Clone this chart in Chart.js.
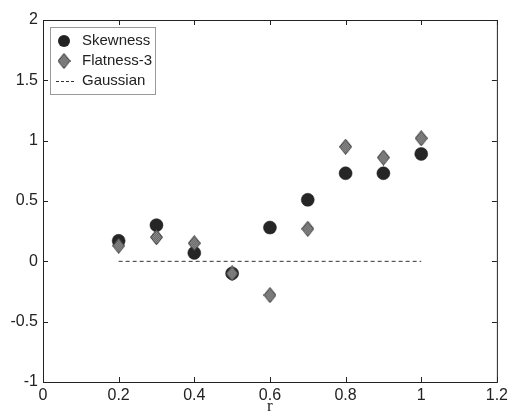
<!DOCTYPE html>
<html>
<head>
<meta charset="utf-8">
<script src="https://cdn.jsdelivr.net/npm/chart.js@4"></script>
<style>
  html, body { margin: 0; padding: 0; background: #fff; }
  #c { display: block; }
</style>
</head>
<body>
<canvas id="c" width="512" height="412"></canvas>
<script>
// ---------- data ----------
const rValues   = [0.2, 0.3, 0.4, 0.5, 0.6, 0.7, 0.8, 0.9, 1.0];
const skewness  = [0.17, 0.30, 0.07, -0.10, 0.28, 0.51, 0.73, 0.73, 0.89];
const flatness3 = [0.13, 0.20, 0.15, -0.10, -0.28, 0.27, 0.95, 0.86, 1.02];
const gaussX    = [0.2, 1.0];
const gaussY    = [0, 0];
const xTicks    = [0, 0.2, 0.4, 0.6, 0.8, 1, 1.2];
const yTicks    = [-1, -0.5, 0, 0.5, 1, 1.5, 2];

const FONT = "'Liberation Sans', Arial, sans-serif";

// hatched grey diamond marker (drawn once, used as pointStyle)
function makeDiamond(w, h) {
  const cv = document.createElement("canvas");
  cv.width = w; cv.height = h;
  const g = cv.getContext("2d");
  const pc = document.createElement("canvas");
  pc.width = 2; pc.height = 2;
  const pg = pc.getContext("2d");
  pg.fillStyle = "#9a9a9a"; pg.fillRect(0, 0, 2, 2);
  pg.fillStyle = "#5a5a5a"; pg.fillRect(0, 0, 1, 1); pg.fillRect(1, 1, 1, 1);
  g.beginPath();
  g.moveTo(w / 2, 0.5); g.lineTo(w - 0.5, h / 2); g.lineTo(w / 2, h - 0.5); g.lineTo(0.5, h / 2);
  g.closePath();
  g.fillStyle = g.createPattern(pc, "repeat");
  g.fill();
  g.strokeStyle = "#333"; g.lineWidth = 1; g.stroke();
  return cv;
}
const diamond = makeDiamond(13, 16);

const toXY = (xs, ys) => xs.map((x, i) => ({ x: x, y: ys[i] }));

// frame, inner ticks and legend box (matlab look)
const framePlugin = {
  id: "frame",
  afterDatasetsDraw(chart) {
    const { ctx, chartArea: a, scales } = chart;
    ctx.save();
    ctx.strokeStyle = "#222";
    ctx.lineWidth = 1;
    ctx.strokeRect(a.left + 0.5, a.top + 0.5, a.right - a.left, a.bottom - a.top);
    ctx.beginPath();
    xTicks.forEach(v => {
      const px = Math.round(scales.x.getPixelForValue(v)) + 0.5;
      ctx.moveTo(px, a.bottom); ctx.lineTo(px, a.bottom - 5);
      ctx.moveTo(px, a.top); ctx.lineTo(px, a.top + 5);
    });
    yTicks.forEach(v => {
      const py = Math.round(scales.y.getPixelForValue(v)) + 0.5;
      ctx.moveTo(a.left, py); ctx.lineTo(a.left + 5, py);
      ctx.moveTo(a.right, py); ctx.lineTo(a.right - 5, py);
    });
    ctx.stroke();

    // legend
    const bx = a.left + 7, by = a.top + 7, bw = 105, bh = 67;
    ctx.fillStyle = "#fff";
    ctx.fillRect(bx, by, bw, bh);
    ctx.strokeStyle = "#999";
    ctx.strokeRect(bx + 0.5, by + 0.5, bw, bh);
    const mx = bx + 14, tx = bx + 32;
    const rows = [by + 14, by + 34, by + 54];
    ctx.fillStyle = "#222";
    ctx.beginPath(); ctx.arc(mx, rows[0], 6, 0, Math.PI * 2); ctx.fill();
    ctx.drawImage(diamond, mx - 6.5, rows[1] - 8);
    ctx.strokeStyle = "#333";
    ctx.setLineDash([3, 2]);
    ctx.beginPath(); ctx.moveTo(mx - 8, rows[2] + 0.5); ctx.lineTo(mx + 10, rows[2] + 0.5); ctx.stroke();
    ctx.setLineDash([]);
    ctx.fillStyle = "#222";
    ctx.font = "15px " + FONT;
    ctx.textBaseline = "middle";
    ctx.fillText("Skewness", tx, rows[0]);
    ctx.fillText("Flatness-3", tx, rows[1]);
    ctx.fillText("Gaussian", tx, rows[2]);
    ctx.restore();
  }
};

const fmt = v => String(Math.round(v * 10) / 10);

new Chart(document.getElementById("c"), {
  type: "scatter",
  data: {
    datasets: [
      {
        label: "Gaussian",
        data: toXY(gaussX, gaussY),
        showLine: true,
        borderColor: "#333",
        borderWidth: 1,
        borderDash: [4, 3],
        pointRadius: 0
      },
      {
        label: "Flatness-3",
        data: toXY(rValues, flatness3),
        pointStyle: diamond,
        pointRadius: 8
      },
      {
        label: "Skewness",
        data: toXY(rValues, skewness),
        pointStyle: "circle",
        pointRadius: 6.5,
        backgroundColor: "#262626",
        borderColor: "#1a1a1a",
        borderWidth: 0.5
      }
    ]
  },
  options: {
    responsive: false,
    animation: false,
    layout: { padding: { top: 20, right: 12, left: 0, bottom: 0 } },
    plugins: { legend: { display: false }, tooltip: { enabled: false } },
    scales: {
      x: {
        type: "linear",
        min: 0, max: 1.2,
        afterBuildTicks: s => { s.ticks = xTicks.map(v => ({ value: v })); },
        afterFit: s => { s.height = 30; },
        grid: { display: false, drawTicks: false },
        border: { display: false },
        ticks: { color: "#222", font: { family: FONT, size: 16 }, padding: 4, maxRotation: 0, callback: fmt },
        title: { display: true, text: "r", color: "#222", font: { family: "'Liberation Serif', 'Times New Roman', serif", size: 17 }, padding: { top: 0, bottom: -5 } }
      },
      y: {
        type: "linear",
        min: -1, max: 2,
        afterBuildTicks: s => { s.ticks = yTicks.map(v => ({ value: v })); },
        afterFit: s => { s.width = 43; },
        grid: { display: false, drawTicks: false },
        border: { display: false },
        ticks: { color: "#222", font: { family: FONT, size: 16 }, padding: 5, callback: fmt }
      }
    }
  },
  plugins: [framePlugin]
});
</script>
</body>
</html>
